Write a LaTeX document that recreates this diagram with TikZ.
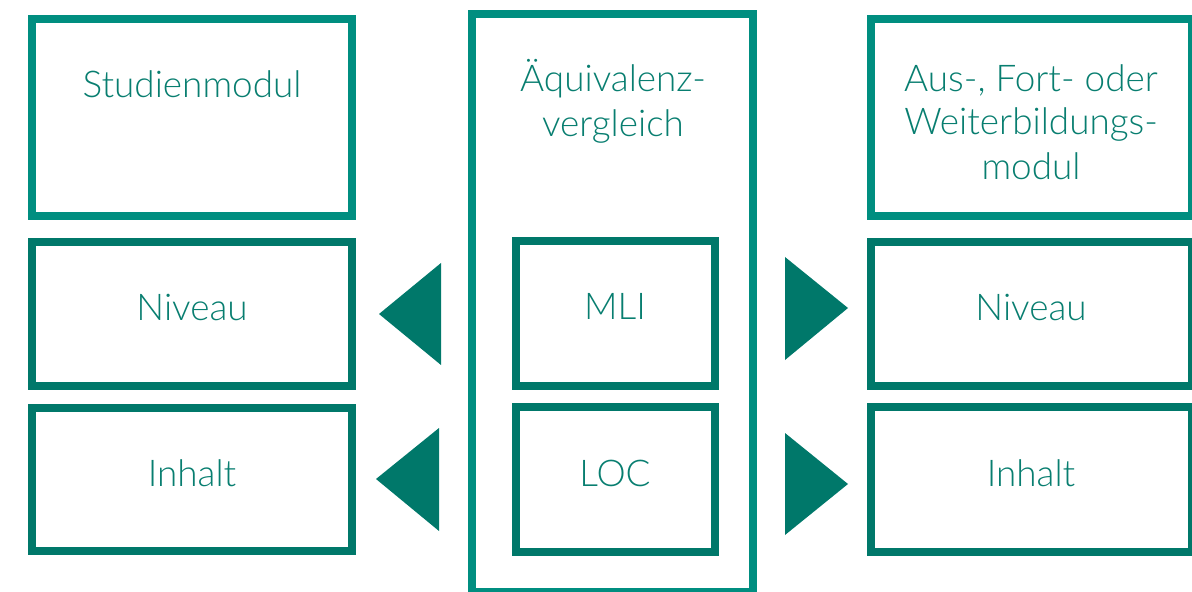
\documentclass[tikz,border=0pt]{standalone}
\usepackage{fontspec}
\setmainfont{Lato Light}
\definecolor{lightteal}{RGB}{0,142,128}
\definecolor{darkteal}{RGB}{0,120,106}
\definecolor{tealtext}{RGB}{8,126,112}
\begin{document}
\begin{tikzpicture}[x=1bp,y=-1bp,
  boxbase/.style={draw,line width=8bp,inner sep=0pt,outer sep=0pt,fill=white},
  topbox/.style={boxbase,draw=lightteal},
  subbox/.style={boxbase,draw=darkteal},
  lbl/.style={anchor=base,inner sep=0pt,text=tealtext,font=\fontsize{37}{44}\selectfont,align=center},
  tri/.style={fill=darkteal}]
\useasboundingbox (0,0) rectangle (1192,592);
\clip (0,0) rectangle (1192,592);
% left column
\node[topbox,minimum width=320bp,minimum height=197bp] (stud) at (192,117.5) {};
\node[subbox,minimum width=320bp,minimum height=144bp] (nivL) at (192,314) {};
\node[subbox,minimum width=320bp,minimum height=143bp] (inhL) at (192,479.5) {};
% centre column
\node[topbox,minimum width=281bp,minimum height=578bp] (aeq) at (612.5,303) {};
\node[subbox,minimum width=199bp,minimum height=145bp] (mli) at (615.5,313.5) {};
\node[subbox,minimum width=199bp,minimum height=145bp] (loc) at (615.5,479.5) {};
% right column
\node[topbox,minimum width=321bp,minimum height=197bp] (aus) at (1031.5,117.5) {};
\node[subbox,minimum width=321bp,minimum height=144bp] (nivR) at (1031.5,314) {};
\node[subbox,minimum width=321bp,minimum height=145bp] (inhR) at (1031.5,479.5) {};
% triangles
\fill[tri] (379,314) -- (441,263) -- (441,365) -- cycle;
\fill[tri] (376,479) -- (439,428) -- (439,531) -- cycle;
\fill[tri] (785,257) -- (785,360) -- (848,308) -- cycle;
\fill[tri] (785,433) -- (785,535) -- (848,484) -- cycle;
% labels
\node[lbl] (tstud) at (192,98) {Studienmodul};
\node[lbl] (tnivL) at (192,321) {Niveau};
\node[lbl] (tinhL) at (192,486) {Inhalt};
\node[lbl] (taeq1) at (613,92) {Äquivalenz-};
\node[lbl] (taeq2) at (613,137) {vergleich};
\node[lbl] (tmli) at (615,320) {MLI};
\node[lbl] (tloc) at (615,486) {LOC};
\node[lbl] (taus1) at (1031,92) {Aus-, Fort- oder};
\node[lbl] (taus2) at (1031,135) {Weiterbildungs-};
\node[lbl] (taus3) at (1031,180) {modul};
\node[lbl] (tnivR) at (1031,321) {Niveau};
\node[lbl] (tinhR) at (1031,486) {Inhalt};
\end{tikzpicture}
\end{document}
